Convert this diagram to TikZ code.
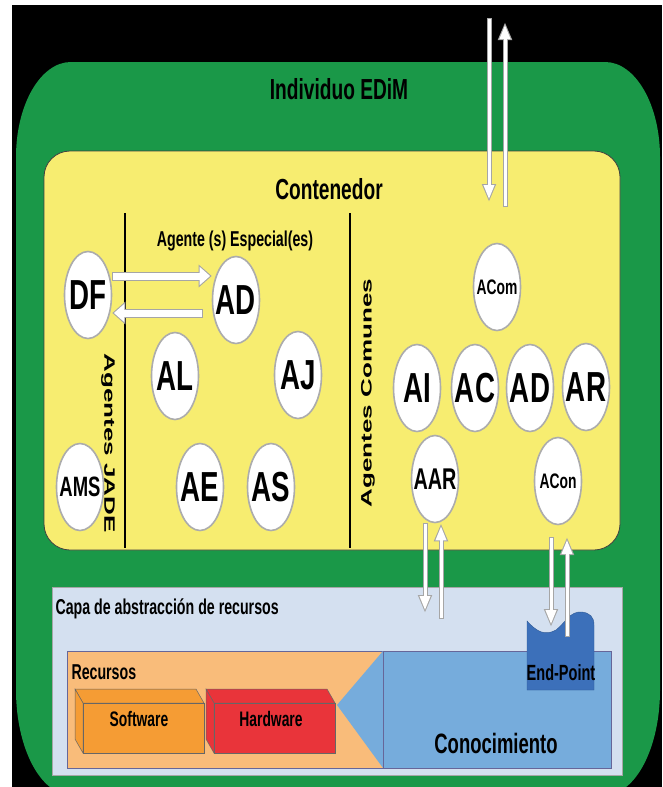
\documentclass[tikz,border=0pt]{standalone}
\usepackage{fontspec}
\usepackage{tikz}
\usetikzlibrary{arrows.meta, shapes.geometric}
\newfontfamily\edimfont{Liberation Sans}[FakeStretch=0.66]
\newfontfamily\widefont{Liberation Sans}
\definecolor{EdimGreen}{RGB}{26,152,72}
\definecolor{CtYellow}{RGB}{247,237,112}
\definecolor{CapaBlue}{RGB}{212,224,240}
\definecolor{RecOrange}{RGB}{249,188,122}
\definecolor{ConBlue}{RGB}{118,172,220}
\definecolor{SwOrange}{RGB}{245,156,52}
\definecolor{HwRed}{RGB}{233,52,58}
\definecolor{EpBlue}{RGB}{60,112,186}
\def\fsz#1{\edimfont\bfseries\fontsize{#1}{#1}\selectfont}

\begin{document}
\begin{tikzpicture}[x=1pt, y=-1pt,
  agent/.style={ellipse, minimum width=47pt, minimum height=87pt, inner sep=0pt,
    fill=white, draw=gray!65, line width=1.6pt},
  big/.style={font=\fsz{42}},
  mid/.style={font=\fsz{29}},
  small/.style={font=\fsz{21}},
  sidetxt/.style={font=\widefont\bfseries\fontsize{26}{26}\selectfont},
  thinarrow/.style={draw=white, line width=3pt, shorten <=0.8pt, shorten >=2.9pt,
    -{Triangle[length=14.1pt,width=10.2pt]},
    preaction={draw=gray!70, line width=5pt, shorten <=0pt, shorten >=0pt,
      -{Triangle[length=18pt,width=13pt]}}},
  widearrow/.style={draw=white, line width=7pt, shorten <=1pt, shorten >=1.6pt,
    -{Triangle[length=10.5pt,width=17.7pt]},
    preaction={draw=gray!70, line width=9pt, shorten <=0pt, shorten >=0pt,
      -{Triangle[length=13pt,width=22pt]}}},
  cube/.style={draw=black!60, line width=0.5pt}]

  \useasboundingbox (0,0) rectangle (662,787);
  \clip (0,0) rectangle (662,787);
  \fill[white] (0,0) rectangle (662,787);
  \fill[black] (12,5) rectangle (662,787);

  % individuo
  \fill[EdimGreen] (16,157) arc[start angle=180, end angle=270, x radius=55, y radius=95]
    -- (605,62) arc[start angle=270, end angle=360, x radius=55, y radius=95]
    -- (660,690) arc[start angle=0, end angle=90, x radius=55, y radius=105]
    -- (71,795) arc[start angle=90, end angle=180, x radius=55, y radius=105] -- cycle;
  \node[mid] (edim) at (339,89) {Individuo EDiM};

  % contenedor
  \draw[fill=CtYellow, draw=black!75, line width=0.8pt, rounded corners=26pt] (44,151) rectangle (620,550);
  \node[mid] (cont) at (329,189) {Contenedor};
  \draw[line width=1.2pt] (125,213) -- (125,548);
  \draw[line width=1.2pt] (350,213) -- (350,548);
  \node[font=\fsz{21.5}, anchor=base] (esp) at (235,246) {Agente (s) Especial(es)};
  \node[sidetxt, rotate=-90] (jade) at (108,443) {\scalebox{1}[0.58]{Agentes JADE}};
  \node[sidetxt, rotate=90] (comunes) at (368,393) {\scalebox{1}[0.58]{Agentes Comunes}};

  % capa de abstraccion
  \draw[fill=CapaBlue, draw=gray!70, line width=0.8pt] (52,587) rectangle (622,775);
  \node[font=\fsz{21.5}, anchor=base west] (capa) at (52,614) {Capa de abstracción de recursos};
  \draw[fill=RecOrange, draw=gray!80!blue, line width=0.6pt] (67,651) rectangle (383,768);
  \fill[ConBlue] (383,651) -- (337,705) -- (383,768) -- cycle;
  \draw[fill=ConBlue, draw=gray!80!blue, line width=0.6pt] (383,651) rectangle (611,768);
  \node[font=\fsz{21.5}, anchor=base west] (rec) at (68,679) {Recursos};
  \node[font=\fsz{28}, anchor=base] (con) at (496,753) {Conocimiento};

  \begin{scope}[shift={(83,703)}]
    \draw[cube, fill=SwOrange] (-8,-14) -- (113,-14) -- (121,0) -- (0,0) -- cycle;
    \draw[cube, fill=SwOrange] (-8,-14) -- (0,0) -- (0,50) -- (-8,36) -- cycle;
    \draw[cube, fill=SwOrange] (0,0) rectangle (121,50);
  \end{scope}
  \begin{scope}[shift={(214,703)}]
    \draw[cube, fill=HwRed] (-8,-14) -- (113,-14) -- (121,0) -- (0,0) -- cycle;
    \draw[cube, fill=HwRed] (-8,-14) -- (0,0) -- (0,50) -- (-8,36) -- cycle;
    \draw[cube, fill=HwRed] (0,0) rectangle (121,50);
  \end{scope}
  \node[small, anchor=base] (sw) at (139,726) {Software};
  \node[small, anchor=base] (hw) at (271,726) {Hardware};

  \draw[fill=EpBlue, draw=EpBlue!80!black, line width=0.4pt] (527,621)
    .. controls (537,632) and (545,636) .. (556,630)
    .. controls (566,622) and (570,611) .. (582,612)
    .. controls (590,613) and (594,617) .. (594,625) -- (594,690) -- (527,690) -- cycle;
  \node[font=\fsz{22}, anchor=base] (ep) at (561,680) {End-Point};

  % agentes JADE y especiales
  \node[agent, label={[big]center:DF}] (DF) at (88,295) {};
  \node[agent, label={[big]center:AD}] (ADs) at (236,300) {};
  \node[agent, label={[big]center:AL}] (AL) at (175,376) {};
  \node[agent, label={[big]center:AJ}] (AJ) at (298,375) {};
  \node[agent, label={[font=\fsz{28}]center:AMS}] (AMS) at (80,487) {};
  \node[agent, label={[big]center:AE}] (AE) at (200,487) {};
  \node[agent, label={[big]center:AS}] (AS) at (271,487) {};

  % agentes comunes
  \node[agent, label={[small]center:ACom}] (ACom) at (497,287) {};
  \node[agent, label={[big]center:AI}] (AI) at (417,388) {};
  \node[agent, label={[big]center:AC}] (AC) at (475,388) {};
  \node[agent, label={[big]center:AD}] (ADc) at (530,388) {};
  \node[agent, label={[big]center:AR}] (AR) at (586,387) {};
  \node[agent, label={[font=\fsz{30}]center:AAR}] (AAR) at (435,479) {};
  \node[agent, label={[small]center:ACon}] (ACon) at (558,481) {};

  % flechas
  \coordinate (adback) at (203,313);
  \draw[widearrow] (DF.east |- 0,276) -- (ADs.west |- 0,276);
  \draw[widearrow] (adback) -- (DF.east |- adback);

  \coordinate (inTop) at (489,18);
  \coordinate (inEnd) at (489,202);
  \coordinate (outStart) at (505,207);
  \coordinate (outTop) at (505,22);
  \draw[thinarrow] (inTop) -- (inEnd);
  \draw[thinarrow] (outStart) -- (outTop);

  \coordinate (aarDown) at (425,613);
  \coordinate (aarUp) at (441,619);
  \draw[thinarrow] (AAR.south -| aarDown) -- (aarDown);
  \draw[thinarrow] (aarUp) -- (AAR.south -| aarUp);

  \coordinate (aconDown) at (551,537);
  \coordinate (epIn) at (551,627);
  \coordinate (epOut) at (567,637);
  \coordinate (aconUp) at (567,537);
  \draw[thinarrow] (aconDown) -- (epIn);
  \draw[thinarrow] (epOut) -- (aconUp);
\end{tikzpicture}
\end{document}
